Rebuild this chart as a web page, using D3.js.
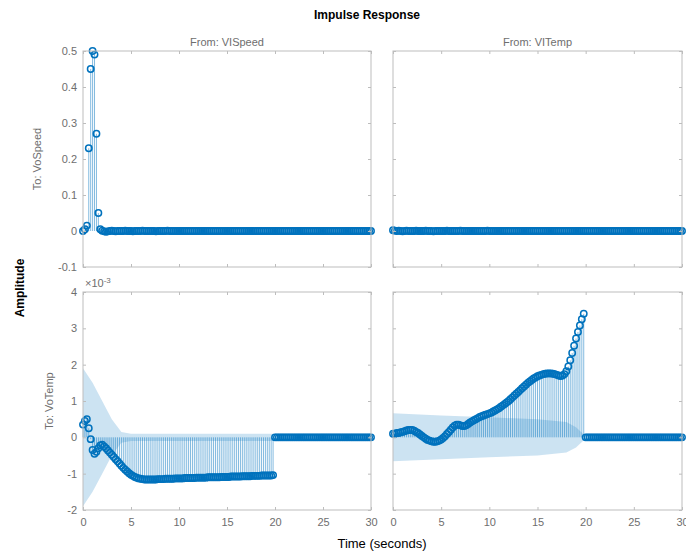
<!DOCTYPE html>
<html>
<head>
<meta charset="utf-8">
<script src="https://cdn.jsdelivr.net/npm/d3@7"></script>
<style>
  html, body { margin: 0; padding: 0; background: #fff; }
  svg { display: block; font-family: "Liberation Sans", Arial, Helvetica, sans-serif; }
</style>
</head>
<body>
<svg id="chart" width="686" height="553"></svg>
<script>
// ---------------- DATA ----------------
const chartTitle = "Impulse Response";
const inputNames = ["From: VISpeed", "From: VITemp"];
const outputNames = ["To: VoSpeed", "To: VoTemp"];
const timeStep = 0.2;            // seconds between samples (151 samples, 0..30 s)
const xTicks = [0, 5, 10, 15, 20, 25, 30];
const yTicksSpeed = [-0.1, 0, 0.1, 0.2, 0.3, 0.4, 0.5];
const yTicksTemp = [-2, -1, 0, 1, 2, 3, 4];   // x 10^-3

// VoSpeed <- VISpeed
const speedFromSpeed = [
  0, 0.005, 0.015, 0.23, 0.45, 0.5, 0.49, 0.27, 0.05, 0.005,
  0.001, -0.001, -0.002, -0.001, 0, 0.001, 0, -0.001, 0, 0,
  0, 0, 0.001, 0, 0, 0, -0.001, 0, 0, 0,
  0, 0.001, 0, 0, 0, 0, 0, 0, -0.001, 0,
  0, 0, 0, 0, 0.001, 0, 0, 0, 0, 0,
  0, 0, 0, 0, 0, 0, 0, 0, 0, 0,
  0, 0, 0, 0, 0, 0, 0, 0, 0, 0,
  0, 0, 0, 0, 0, 0, 0, 0, 0, 0,
  0, 0, 0, 0, 0, 0, 0, 0, 0, 0,
  0, 0, 0, 0, 0, 0, 0, 0, 0, 0,
  0, 0, 0, 0, 0, 0, 0, 0, 0, 0,
  0, 0, 0, 0, 0, 0, 0, 0, 0, 0,
  0, 0, 0, 0, 0, 0, 0, 0, 0, 0,
  0, 0, 0, 0, 0, 0, 0, 0, 0, 0,
  0, 0, 0, 0, 0, 0, 0, 0, 0, 0,
  0
];
// VoSpeed <- VITemp
const speedFromTemp = [
  0.002, 0.001, 0, 0.001, 0, -0.001, 0, 0.001, 0, 0,
  0, 0, 0.001, 0, 0, 0, 0, 0.001, 0, 0,
  0, -0.001, 0, 0, 0, 0, 0, 0, 0.001, 0,
  0, 0, 0, 0, 0, 0.001, 0, 0, 0, 0,
  0, 0, 0, 0, 0, 0, 0, 0, 0, 0.001,
  0, 0, 0, 0, 0, 0, 0, 0, 0, 0,
  0, 0, 0, 0, 0, 0, 0, 0, 0, 0,
  0, 0, 0, 0, 0, 0, 0, 0, 0, 0,
  0, 0, 0, 0, 0, 0, 0, 0, 0, 0,
  0, 0, 0, 0, 0, 0, 0, 0, 0, 0,
  0, 0, 0, 0, 0, 0, 0, 0, 0, 0,
  0, 0, 0, 0, 0, 0, 0, 0, 0, 0,
  0, 0, 0, 0, 0, 0, 0, 0, 0, 0,
  0, 0, 0, 0, 0, 0, 0, 0, 0, 0,
  0, 0, 0, 0, 0, 0, 0, 0, 0, 0,
  0
];
// VoTemp <- VISpeed  (x 10^-3)
const tempFromSpeed = [
  0.35, 0.45, 0.5, 0.25, -0.05, -0.35, -0.45, -0.4, -0.3, -0.22,
  -0.2, -0.25, -0.3, -0.36, -0.42, -0.48, -0.54, -0.6, -0.66, -0.72,
  -0.78, -0.84, -0.89, -0.94, -0.99, -1.03, -1.06, -1.09, -1.11, -1.13,
  -1.14, -1.15, -1.16, -1.16, -1.16, -1.16, -1.16, -1.16, -1.16, -1.15,
  -1.15, -1.15, -1.15, -1.14, -1.14, -1.14, -1.14, -1.14, -1.13, -1.13,
  -1.13, -1.13, -1.13, -1.12, -1.12, -1.12, -1.12, -1.12, -1.12, -1.11,
  -1.11, -1.11, -1.11, -1.11, -1.11, -1.10, -1.10, -1.10, -1.10, -1.10,
  -1.10, -1.10, -1.09, -1.09, -1.09, -1.09, -1.09, -1.08, -1.08, -1.08,
  -1.08, -1.08, -1.08, -1.07, -1.07, -1.07, -1.07, -1.07, -1.06, -1.06,
  -1.06, -1.06, -1.06, -1.05, -1.05, -1.05, -1.05, -1.05, -1.05, -1.04,
  0, 0, 0, 0, 0, 0, 0, 0, 0, 0,
  0, 0, 0, 0, 0, 0, 0, 0, 0, 0,
  0, 0, 0, 0, 0, 0, 0, 0, 0, 0,
  0, 0, 0, 0, 0, 0, 0, 0, 0, 0,
  0, 0, 0, 0, 0, 0, 0, 0, 0, 0,
  0
];
// VoTemp <- VITemp  (x 10^-3)
const tempFromTemp = [
  0.1, 0.1, 0.12, 0.12, 0.14, 0.15, 0.17, 0.19, 0.2, 0.2,
  0.2, 0.18, 0.15, 0.12, 0.08, 0.04, 0.0, -0.04, -0.07, -0.09,
  -0.11, -0.12, -0.12, -0.11, -0.09, -0.06, -0.02, 0.03, 0.09, 0.15,
  0.21, 0.27, 0.32, 0.35, 0.35, 0.33, 0.31, 0.31, 0.33, 0.37,
  0.41, 0.44, 0.47, 0.5, 0.53, 0.56, 0.58, 0.6, 0.62, 0.64,
  0.66, 0.68, 0.71, 0.74, 0.77, 0.8, 0.84, 0.88, 0.92, 0.96,
  1.0, 1.05, 1.1, 1.15, 1.2, 1.25, 1.3, 1.35, 1.4, 1.45,
  1.5, 1.54, 1.58, 1.62, 1.65, 1.68, 1.7, 1.72, 1.74, 1.75,
  1.76, 1.76, 1.76, 1.75, 1.74, 1.72, 1.7, 1.69, 1.7, 1.74,
  1.82, 1.95, 2.12, 2.32, 2.52, 2.72, 2.9, 3.08, 3.25, 3.4,
  0, 0, 0, 0, 0, 0, 0, 0, 0, 0,
  0, 0, 0, 0, 0, 0, 0, 0, 0, 0,
  0, 0, 0, 0, 0, 0, 0, 0, 0, 0,
  0, 0, 0, 0, 0, 0, 0, 0, 0, 0,
  0, 0, 0, 0, 0, 0, 0, 0, 0, 0,
  0
];
// Confidence regions (centered on zero): half-widths at given times (x 10^-3)
const confTimesTS = [0, 1, 2, 3, 4, 5, 19.8];
const confHalfTS  = [1.9, 1.5, 1.0, 0.5, 0.15, 0.1, 0.1];
const confTimesTT = [0, 5, 10, 15, 18, 19, 19.8];
const confHalfTT  = [0.66, 0.6, 0.55, 0.5, 0.42, 0.28, 0.08];

// ---------------- LAYOUT ----------------
const svg = d3.select("#chart");
const colX = [[83, 371], [393, 682]];
const rowY = [[51, 267], [292, 510]];
const blue = "#0072BD";
const axisGrey = "#bdbdbd";
const labelGrey = "#6e6e6e";

const panels = [
  { r: 0, c: 0, values: speedFromSpeed, dom: [-0.1, 0.5], ticks: yTicksSpeed },
  { r: 0, c: 1, values: speedFromTemp,  dom: [-0.1, 0.5], ticks: yTicksSpeed },
  { r: 1, c: 0, values: tempFromSpeed,  dom: [-2, 4], ticks: yTicksTemp, confT: confTimesTS, confW: confHalfTS },
  { r: 1, c: 1, values: tempFromTemp,   dom: [-2, 4], ticks: yTicksTemp, confT: confTimesTT, confW: confHalfTT }
];

const fmt = d => String(+d.toFixed(1));

panels.forEach(p => {
  const [x0, x1] = colX[p.c];
  const [y0, y1] = rowY[p.r];
  const x = d3.scaleLinear().domain([0, 30]).range([x0, x1]);
  const y = d3.scaleLinear().domain(p.dom).range([y1, y0]);
  const g = svg.append("g");
  const pts = p.values.map((v, i) => ({ t: +(i * timeStep).toFixed(2), v }));

  // confidence region
  if (p.confT) {
    const band = p.confT.map((t, i) => ({ t, w: p.confW[i] }));
    g.append("path")
      .datum(band)
      .attr("fill", blue)
      .attr("fill-opacity", 0.2)
      .attr("d", d3.area().x(d => x(d.t)).y0(d => y(-d.w)).y1(d => y(d.w)));
  }

  // stems
  g.append("g").selectAll("line").data(pts).join("line")
    .attr("x1", d => x(d.t)).attr("x2", d => x(d.t))
    .attr("y1", y(0)).attr("y2", d => y(d.v))
    .attr("stroke", blue).attr("stroke-width", 0.7).attr("stroke-opacity", 0.7);

  // markers
  g.append("g").selectAll("circle").data(pts).join("circle")
    .attr("cx", d => x(d.t)).attr("cy", d => y(d.v)).attr("r", 3.2)
    .attr("fill", "none").attr("stroke", blue).attr("stroke-width", 1.5);

  // box
  g.append("rect").attr("x", x0).attr("y", y0).attr("width", x1 - x0).attr("height", y1 - y0)
    .attr("fill", "none").attr("stroke", axisGrey).attr("stroke-width", 1);

  // axes
  const styleAxis = sel => {
    sel.select(".domain").remove();
    sel.selectAll(".tick line").attr("stroke", axisGrey);
    sel.selectAll(".tick text").attr("fill", labelGrey)
      .style("font-family", "'Liberation Sans', Arial, sans-serif").style("font-size", "11px");
  };
  const bottomAx = d3.axisBottom(x).tickValues(xTicks).tickSizeInner(-3).tickSizeOuter(0).tickPadding(8)
    .tickFormat(p.r === 1 ? fmt : () => "");
  g.append("g").attr("transform", `translate(0,${y1})`).call(bottomAx).call(styleAxis);
  g.append("g").attr("transform", `translate(0,${y0})`)
    .call(d3.axisTop(x).tickValues(xTicks).tickSizeInner(-3).tickSizeOuter(0).tickFormat(() => "")).call(styleAxis);
  const leftAx = d3.axisLeft(y).tickValues(p.ticks).tickSizeInner(-3).tickSizeOuter(0).tickPadding(6)
    .tickFormat(p.c === 0 ? fmt : () => "");
  g.append("g").attr("transform", `translate(${x0},0)`).call(leftAx).call(styleAxis);
  g.append("g").attr("transform", `translate(${x1},0)`)
    .call(d3.axisRight(y).tickValues(p.ticks).tickSizeInner(-3).tickSizeOuter(0).tickFormat(() => "")).call(styleAxis);

  // exponent label
  if (p.r === 1 && p.c === 0) {
    const ex = g.append("text").attr("x", x0 + 2).attr("y", y0 - 5)
      .attr("fill", labelGrey).style("font-size", "11px");
    ex.append("tspan").text("\u00d710");
    ex.append("tspan").attr("dy", -4).style("font-size", "8px").text("-3");
  }
});

// column titles
inputNames.forEach((n, i) => {
  svg.append("text").attr("x", (colX[i][0] + colX[i][1]) / 2).attr("y", 46)
    .attr("text-anchor", "middle").attr("fill", labelGrey).style("font-size", "11px").text(n);
});
// row titles
const rowLabelX = [41, 53];
outputNames.forEach((n, i) => {
  const cy = (rowY[i][0] + rowY[i][1]) / 2;
  svg.append("text").attr("transform", `translate(${rowLabelX[i]},${cy}) rotate(-90)`)
    .attr("text-anchor", "middle").attr("fill", labelGrey).style("font-size", "11px").text(n);
});
// title
svg.append("text").attr("x", 367).attr("y", 19).attr("text-anchor", "middle")
  .attr("fill", "#000").style("font-size", "12px").style("font-weight", "bold").text(chartTitle);
// y label
svg.append("text").attr("transform", "translate(24,288) rotate(-90)").attr("text-anchor", "middle")
  .attr("fill", "#000").style("font-size", "12px").style("font-weight", "bold").text("Amplitude");
// x label
svg.append("text").attr("x", 382).attr("y", 548).attr("text-anchor", "middle")
  .attr("fill", "#000").style("font-size", "13px").text("Time (seconds)");
</script>
</body>
</html>
